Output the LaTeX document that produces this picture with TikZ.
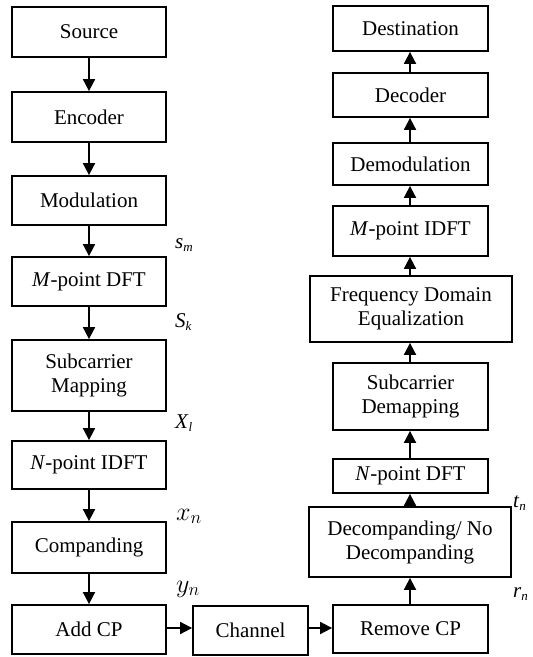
\RequirePackage{fix-cm}
\documentclass[tikz,border=0pt]{standalone}
\usepackage{fontspec}
\setmainfont{Liberation Serif}
\usetikzlibrary{arrows.meta}
\tikzset{
  blk/.style={draw, line width=1.8pt, align=center, inner sep=0pt,
    font=\fontsize{21}{24}\selectfont},
  arr/.style={line width=1.8pt, -{Triangle[length=12pt,width=12pt]}},
  lbl/.style={anchor=base west, inner sep=0pt, font=\fontsize{21}{24}\selectfont},
  mlbl/.style={anchor=base west, inner sep=0pt, font=\fontsize{26}{30}\selectfont}
}
\newcommand{\subl}[2]{\textit{#1}\raisebox{-0.35ex}{\fontsize{13}{13}\selectfont\textit{#2}}}
\begin{document}
\begin{tikzpicture}[x=1pt,y=-1pt]
\useasboundingbox (0,0) rectangle (533,657);
% left column
\node[blk, minimum width=154pt, minimum height=50pt] (src) at (89,32) {Source};
\node[blk, minimum width=154pt, minimum height=50pt] (enc) at (89,117) {Encoder};
\node[blk, minimum width=154pt, minimum height=49pt] (mod) at (89,200.5) {Modulation};
\node[blk, minimum width=154pt, minimum height=49pt] (mdft) at (89,281.5) {\textit{M}-point DFT};
\node[blk, minimum width=154pt, minimum height=71pt] (map) at (89,375.5) {Subcarrier\\Mapping};
\node[blk, minimum width=154pt, minimum height=48pt] (nidft) at (89,465) {\textit{N}-point IDFT};
\node[blk, minimum width=154pt, minimum height=51pt] (comp) at (89,547.5) {Companding};
\node[blk, minimum width=154pt, minimum height=49pt] (addcp) at (89,629.5) {Add CP};
% channel
\node[blk, minimum width=115pt, minimum height=49pt] (chan) at (250.5,630.5) {Channel};
% right column
\node[blk, minimum width=155pt, minimum height=45pt] (dest) at (410.5,28.5) {Destination};
\node[blk, minimum width=155pt, minimum height=44pt] (dec) at (410.5,95) {Decoder};
\node[blk, minimum width=155pt, minimum height=42pt] (demod) at (410.5,164) {Demodulation};
\node[blk, minimum width=155pt, minimum height=50pt] (midft) at (410.5,231) {\textit{M}-point IDFT};
\node[blk, minimum width=202pt, minimum height=66pt] (fde) at (411,309) {Frequency Domain\\Equalization};
\node[blk, minimum width=155pt, minimum height=67pt] (demap) at (410.5,396.5) {Subcarrier\\Demapping};
\node[blk, minimum width=155pt, minimum height=34pt] (ndft) at (410.5,476) {\textit{N}-point DFT};
\node[blk, minimum width=202pt, minimum height=70pt] (decomp) at (410,542) {Decompanding/ No\\Decompanding};
\node[blk, minimum width=155pt, minimum height=48pt] (rmcp) at (410.5,629) {Remove CP};
% arrows left
\draw[arr] (src) -- (enc);
\draw[arr] (enc) -- (mod);
\draw[arr] (mod) -- (mdft);
\draw[arr] (mdft) -- (map);
\draw[arr] (map) -- (nidft);
\draw[arr] (nidft) -- (comp);
\draw[arr] (comp) -- (addcp);
% horizontal
\draw[arr] (addcp.east |- 0,628) -- (chan.west |- 0,628);
\draw[arr] (chan.east |- 0,628) -- (rmcp.west |- 0,628);
% arrows right
\draw[arr] (rmcp.north -| 410,0) -- (decomp.south -| 410,0);
\draw[arr] (decomp.north -| 410,0) -- (ndft.south -| 410,0);
\draw[arr] (ndft.north -| 410,0) -- (demap.south -| 410,0);
\draw[arr] (demap.north -| 410,0) -- (fde.south -| 410,0);
\draw[arr] (fde.north -| 410,0) -- (midft.south -| 410,0);
\draw[arr] (midft.north -| 410,0) -- (demod.south -| 410,0);
\draw[arr] (demod.north -| 410,0) -- (dec.south -| 410,0);
\draw[arr] (dec.north -| 410,0) -- (dest.south -| 410,0);
% labels
\node[lbl] (lsm) at (175,248) {\subl{s}{m}};
\node[lbl] (lsk) at (175,327) {\subl{S}{k}};
\node[lbl] (lxl) at (175,428) {\subl{X}{l}};
\node[mlbl] (lxn) at (176,520) {$x_n$};
\node[mlbl] (lyn) at (176,592) {$y_n$};
\node[lbl] (ltn) at (513,507) {\subl{t}{n}};
\node[lbl] (lrn) at (513,597) {\subl{r}{n}};
\end{tikzpicture}
\end{document}
